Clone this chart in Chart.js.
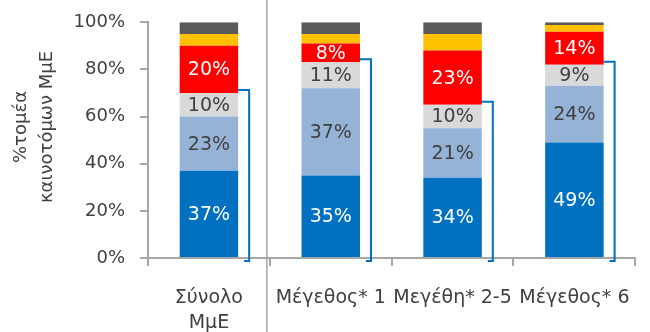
<!DOCTYPE html>
<html>
<head>
<meta charset="utf-8">
<script src="https://cdn.jsdelivr.net/npm/chart.js@4"></script>
<style>
  html, body { margin: 0; padding: 0; background: #fff; }
  #wrap { width: 650px; height: 332px; position: relative; }
</style>
</head>
<body>
<div id="wrap"><canvas id="chart"></canvas></div>
<script>
// Categories and series (% of innovative SMEs)
const categories = [["Σύνολο", "ΜμΕ"], "Μέγεθος* 1", "Μεγέθη* 2-5", "Μέγεθος* 6"];
const series1 = [37, 35, 34, 49];
const series2 = [23, 37, 21, 24];
const series3 = [10, 11, 10, 9];
const series4 = [20, 8, 23, 14];
const series5 = [5, 4, 7, 2.8];
const series6 = [5, 5, 5, 1.2];
const yTicks = [0, 20, 40, 60, 80, 100];
const yTitle = ["%τομέα", "καινοτόμων ΜμΕ"];

const FONT = "'DejaVu Sans', Verdana, sans-serif";
const TEXT = "#404040";

// Labels inside the segments
const labelPlugin = {
  id: "segLabels",
  afterDatasetsDraw(chart) {
    const ctx = chart.ctx;
    ctx.save();
    ctx.font = "19px " + FONT;
    ctx.textAlign = "center";
    ctx.textBaseline = "middle";
    [0, 1, 2, 3].forEach((di) => {
      const ds = chart.data.datasets[di];
      chart.getDatasetMeta(di).data.forEach((bar, i) => {
        ctx.fillStyle = ds.labelColor;
        ctx.fillText(Math.round(ds.data[i]) + "%", bar.x, (bar.y + bar.base) / 2 + 1);
      });
    });
    ctx.restore();
  }
};

// Blue brackets next to each bar, separator line, rotated y title
const bracketPlugin = {
  id: "brackets",
  afterDatasetsDraw(chart) {
    const ctx = chart.ctx;
    const y = chart.scales.y;
    const x = chart.scales.x;
    ctx.save();
    ctx.strokeStyle = "#0070C0";
    ctx.lineWidth = 2;
    chart.getDatasetMeta(0).data.forEach((bar, i) => {
      const right = bar.x + bar.width / 2;
      const bx = right + 11;
      const top = y.getPixelForValue(series1[i] + series2[i] + series3[i]) - 3;
      const bottom = y.getPixelForValue(0) + 3;
      ctx.beginPath();
      ctx.moveTo(right, top);
      ctx.lineTo(bx, top);
      ctx.lineTo(bx, bottom);
      ctx.lineTo(bx - 5, bottom);
      ctx.stroke();
    });
    // separator between total and size classes
    const sx = (x.getPixelForValue(0) + x.getPixelForValue(1)) / 2 - 3;
    ctx.strokeStyle = "#A6A6A6";
    ctx.lineWidth = 1.5;
    ctx.beginPath();
    ctx.moveTo(sx, 0);
    ctx.lineTo(sx, chart.height);
    ctx.stroke();
    // y axis title, two rotated lines
    ctx.fillStyle = TEXT;
    ctx.font = "18px " + FONT;
    ctx.textAlign = "center";
    ctx.textBaseline = "middle";
    ctx.translate(0, 127);
    ctx.rotate(-Math.PI / 2);
    ctx.fillText(yTitle[0], 0, 21);
    ctx.fillText(yTitle[1], 0, 47);
    ctx.restore();
  }
};

new Chart(document.getElementById("chart"), {
  type: "bar",
  data: {
    labels: categories,
    datasets: [
      { data: series1, backgroundColor: "#0070C0", labelColor: "#ffffff" },
      { data: series2, backgroundColor: "#95B3D7", labelColor: TEXT },
      { data: series3, backgroundColor: "#D9D9D9", labelColor: TEXT },
      { data: series4, backgroundColor: "#FF0000", labelColor: "#ffffff" },
      { data: series5, backgroundColor: "#FFC000" },
      { data: series6, backgroundColor: "#595959" }
    ]
  },
  options: {
    responsive: true,
    maintainAspectRatio: false,
    animation: false,
    layout: { padding: { top: 19, right: 4, left: 0, bottom: 0 } },
    datasets: { bar: { categoryPercentage: 1, barPercentage: 0.48, borderWidth: 0 } },
    plugins: { legend: { display: false }, tooltip: { enabled: false } },
    scales: {
      x: {
        stacked: true,
        grid: { offset: true, drawOnChartArea: false, tickLength: 8, color: "#A6A6A6", lineWidth: 2 },
        border: { color: "#A6A6A6", width: 2 },
        ticks: { color: TEXT, font: { family: FONT, size: 19, lineHeight: 1.3 }, padding: 20, maxRotation: 0, autoSkip: false },
        afterFit(scale) { scale.height = 74; }
      },
      y: {
        stacked: true,
        min: 0,
        max: 100,
        afterBuildTicks(scale) { scale.ticks = yTicks.map((v) => ({ value: v })); },
        grid: { drawOnChartArea: false, tickLength: 8, color: "#A6A6A6", lineWidth: 2 },
        border: { color: "#A6A6A6", width: 2 },
        ticks: { color: TEXT, font: { family: FONT, size: 18, lineHeight: 0.8 }, padding: 15, callback: (v) => v + "%" },
        afterFit(scale) { scale.width = 148; }
      }
    }
  },
  plugins: [labelPlugin, bracketPlugin]
});
</script>
</body>
</html>
